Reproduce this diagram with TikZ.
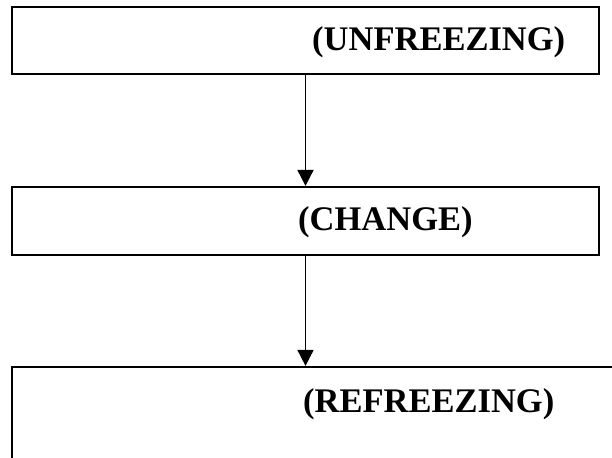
\documentclass[tikz,border=0pt]{standalone}
\usepackage{fontspec}
\setmainfont{Liberation Serif}
\usetikzlibrary{arrows.meta}
\begin{document}
\begin{tikzpicture}[x=1pt,y=-1pt,
  stagebox/.style={draw=black,line width=2.2pt,rectangle,inner sep=0pt},
  stagelabel/.style={anchor=base west,inner sep=0pt,font=\fontsize{34.5}{40}\selectfont\bfseries},
  flow/.style={draw=black,line width=1.8pt,-{Triangle[length=16pt,width=16pt]}}]
\useasboundingbox (0,0) rectangle (612,457);
\clip (0,0) rectangle (612,457);
\node[stagebox,minimum width=587pt,minimum height=67pt] (b1) at (305.5,40.5) {};
\node[stagebox,minimum width=587pt,minimum height=68pt] (b2) at (305.5,221) {};
\node[stagebox,minimum width=640pt,minimum height=120pt] (b3) at (332,427) {};
\node[stagelabel] (t1) at (312,51) {(UNFREEZING)};
\node[stagelabel] (t2) at (298,230) {(CHANGE)};
\node[stagelabel] (t3) at (303,412) {(REFREEZING)};
\draw[flow] (b1.south) -- (b2.north);
\draw[flow] (b2.south) -- (b2.south |- b3.north);
\end{tikzpicture}
\end{document}
